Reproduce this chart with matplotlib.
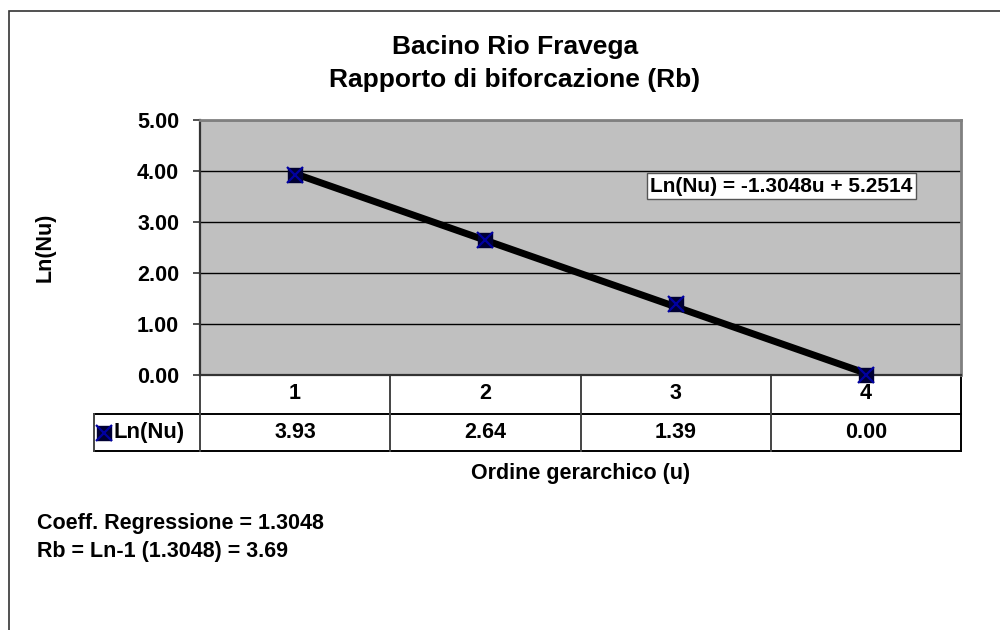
import numpy as np
import matplotlib
matplotlib.use("Agg")
import matplotlib.pyplot as plt
from matplotlib.patches import Rectangle
from matplotlib.lines import Line2D
import matplotlib.transforms as mtransforms

# ---- data ----
orders = [1, 2, 3, 4]
ln_nu = [3.93, 2.64, 1.39, 0.00]
value_labels = ["3.93", "2.64", "1.39", "0.00"]
series_name = "Ln(Nu)"
yticks = [0, 1, 2, 3, 4, 5]
title_lines = ["Bacino Rio Fravega", "Rapporto di biforcazione (Rb)"]
equation_text = "Ln(Nu) = -1.3048u + 5.2514"
note_lines = ["Coeff. Regressione = 1.3048", "Rb = Ln-1 (1.3048) = 3.69"]

plt.rcParams['font.family'] = ['Liberation Sans', 'DejaVu Sans']
plt.rcParams['font.weight'] = 'bold'

FS = 15.5

W, H = 1000, 630
fig = plt.figure(figsize=(W / 100, H / 100), dpi=100)

def fx(px):
    return px / W

def fy(py):
    return 1 - py / H

# outer chart frame (extends beyond the image on right/bottom)
fig.patches.append(Rectangle((fx(9), fy(700)), fx(1100), fy(11) - fy(700),
                             transform=fig.transFigure, fill=False,
                             edgecolor='#333333', linewidth=1.2))

L, R, T, B = 200, 961, 120, 375
ax = fig.add_axes([fx(L), fy(B), fx(R) - fx(L), fy(T) - fy(B)])
ax.set_facecolor('#C0C0C0')
ax.set_xlim(0.5, 4.5)
ax.set_ylim(0, 5)
for s in ['top', 'right']:
    ax.spines[s].set_color('#808080')
    ax.spines[s].set_linewidth(2)
ax.spines['left'].set_color('#333333')
ax.spines['left'].set_linewidth(1.6)
ax.spines['bottom'].set_color('#333333')
ax.spines['bottom'].set_linewidth(1.6)

ax.set_yticks(yticks)
ax.set_yticklabels([f"{v:.2f}" for v in yticks], fontsize=FS, fontweight='bold')
ax.tick_params(axis='y', length=5, width=1.2, color='#333333', pad=10)
ax.set_xticks([])
for v in yticks[1:]:
    ax.axhline(v, color='black', linewidth=1.0, zorder=1)

# trend line (linear fit)
coef = np.polyfit(orders, ln_nu, 1)
xs = np.array([orders[0], orders[-1]])
ax.plot(xs, np.polyval(coef, xs), color='black', linewidth=5,
        solid_capstyle='butt', zorder=3)

# markers
ax.plot(orders, ln_nu, linestyle='none', marker='s', markersize=10,
        color='#000033', zorder=4, clip_on=False)
ax.plot(orders, ln_nu, linestyle='none', marker='x', markersize=11,
        markeredgewidth=1.6, color='#0000A0', zorder=5, clip_on=False)

ax.set_ylabel("Ln(Nu)", fontsize=FS, fontweight='bold')
ax.yaxis.set_label_coords((56 - L) / (R - L), 0.5)

# equation box
ax.text((650 - L) / (R - L), (B - 186) / (B - T), equation_text,
        transform=ax.transAxes, fontsize=15, fontweight='bold',
        ha='left', va='center', zorder=6,
        bbox=dict(boxstyle='square,pad=0.15', facecolor='white',
                  edgecolor='#555555', linewidth=1))

# ---- data table ----
trans = mtransforms.blended_transform_factory(ax.transData, ax.transAxes)
hpx = B - T
r1 = -(414 - B) / hpx
r2 = -(451 - B) / hpx
left_tab = (94 - L) / (R - L)

def hline(y, x0, x1, color='black', lw=1.4):
    ax.add_line(Line2D([x0, x1], [y, y], transform=ax.transAxes, color=color,
                       linewidth=lw, clip_on=False))

def vline(x, y0, y1, color='#444444', lw=1.4):
    ax.add_line(Line2D([x, x], [y0, y1], transform=ax.transAxes, color=color,
                       linewidth=lw, clip_on=False))

hline(r1, left_tab, 1)
hline(r2, left_tab, 1)
vline(left_tab, r1, r2)
vline(0, 0, r2)
vline(1, 0, r2, color='black')
for k in range(1, 4):
    vline(k / 4, 0, r2)

for u, lab in zip(orders, value_labels):
    ax.text(u, r1 / 2 + 0.005, str(u), transform=trans, ha='center', va='center',
            fontsize=FS, fontweight='bold')
    ax.text(u, (r1 + r2) / 2, lab, transform=trans, ha='center', va='center',
            fontsize=FS, fontweight='bold')

# legend key in table
leg_x = left_tab + 10 / (R - L)
leg_y = (r1 + r2) / 2
ax.plot([leg_x], [leg_y], transform=ax.transAxes, marker='s', markersize=10,
        color='#000033', clip_on=False, linestyle='none')
ax.plot([leg_x], [leg_y], transform=ax.transAxes, marker='x', markersize=11,
        markeredgewidth=1.6, color='#0000A0', clip_on=False, linestyle='none')
ax.text(left_tab + 19 / (R - L), leg_y, series_name, transform=ax.transAxes,
        ha='left', va='center', fontsize=15.8, fontweight='bold')

# x axis title
fig.text(fx(581), fy(473), "Ordine gerarchico (u)", ha='center', va='center',
         fontsize=FS, fontweight='bold')

# chart title
fig.text(fx(515), fy(47), title_lines[0], ha='center', va='center',
         fontsize=19, fontweight='bold')
fig.text(fx(515), fy(80), title_lines[1], ha='center', va='center',
         fontsize=19, fontweight='bold')

# notes
fig.text(fx(37), fy(523), note_lines[0], ha='left', va='center', fontsize=FS,
         fontweight='bold')
fig.text(fx(37), fy(551), note_lines[1], ha='left', va='center', fontsize=FS,
         fontweight='bold')

fig.savefig("out.png", dpi=100, facecolor='white')
